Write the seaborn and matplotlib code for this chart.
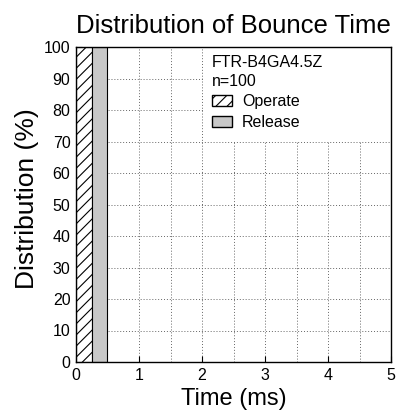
import numpy as np
import pandas as pd
import matplotlib
matplotlib.use("Agg")
import matplotlib.pyplot as plt
import seaborn as sns
from matplotlib.patches import Patch, Rectangle

# Data
bin_start = [0.0, 0.25]
bin_end = [0.25, 0.5]
labels = ["Operate", "Release"]
distribution = [100, 100]

df = pd.DataFrame({
    "time": [(a + b) / 2 for a, b in zip(bin_start, bin_end)],
    "dist": distribution,
    "kind": labels,
})

sns.set_style("ticks")
plt.rcParams["font.family"] = ["Liberation Sans", "DejaVu Sans"]
plt.rcParams["hatch.linewidth"] = 0.8
for key in ["text.color", "axes.labelcolor", "xtick.color", "ytick.color"]:
    plt.rcParams[key] = "black"

fig = plt.figure(figsize=(4.02, 4.17), dpi=100)
ax = fig.add_axes([76 / 402, 1 - 362 / 417, 315 / 402, 315 / 417])

sns.barplot(data=df, x="time", y="dist", hue="kind", native_scale=True,
            width=1.0, dodge=False, palette=["white", "#c8c8c8"],
            edgecolor="black", linewidth=0.8, legend=False, ax=ax)

# hatch the operate bar
for p in ax.patches:
    if abs(p.get_x()) < 1e-6:
        p.set_hatch("///")
        p.set_facecolor("white")

ax.set_xlim(0, 5)
ax.set_ylim(0, 100)
ax.set_xticks(np.arange(0, 6, 1))
ax.set_xticks(np.arange(0, 5.01, 0.5), minor=True)
ax.set_yticks(np.arange(0, 101, 10))
dots = (0, (1, 2))
ax.grid(which="both", axis="x", linestyle=dots, color="#666666", linewidth=0.7)
ax.grid(which="major", axis="y", linestyle=dots, color="#666666", linewidth=0.7)
ax.set_axisbelow(True)
ax.tick_params(which="major", direction="in", length=4, labelsize=11.5,
               colors="black", pad=4)
ax.tick_params(which="minor", length=0)
for s in ax.spines.values():
    s.set_linewidth(1.0)
    s.set_color("black")

ax.set_title("Distribution of Bounce Time", fontsize=18.5, pad=10)
ax.set_xlabel("Time (ms)", fontsize=17, labelpad=4)
ax.set_ylabel("Distribution (%)", fontsize=19)
ax.yaxis.set_label_coords(-0.118, 0.52)

# white block behind the legend hides the grid there
ax.add_patch(Rectangle((0.403, 0.7), 0.597, 0.3, transform=ax.transAxes,
                       facecolor="white", edgecolor="none", zorder=1))

handles = [Patch(facecolor="white", edgecolor="black", hatch="///", label="Operate"),
           Patch(facecolor="#c8c8c8", edgecolor="black", label="Release")]
leg = ax.legend(handles=handles, title="FTR-B4GA4.5Z\nn=100", loc="upper left",
                bbox_to_anchor=(0.405, 1.0), frameon=False, fontsize=11.5,
                title_fontsize=11.5, alignment="left", handlelength=1.3,
                handleheight=0.7, handletextpad=0.6, borderaxespad=0,
                borderpad=0.5, labelspacing=0.35)
leg.get_title().set_linespacing(1.3)

fig.savefig("out.png", dpi=100)
